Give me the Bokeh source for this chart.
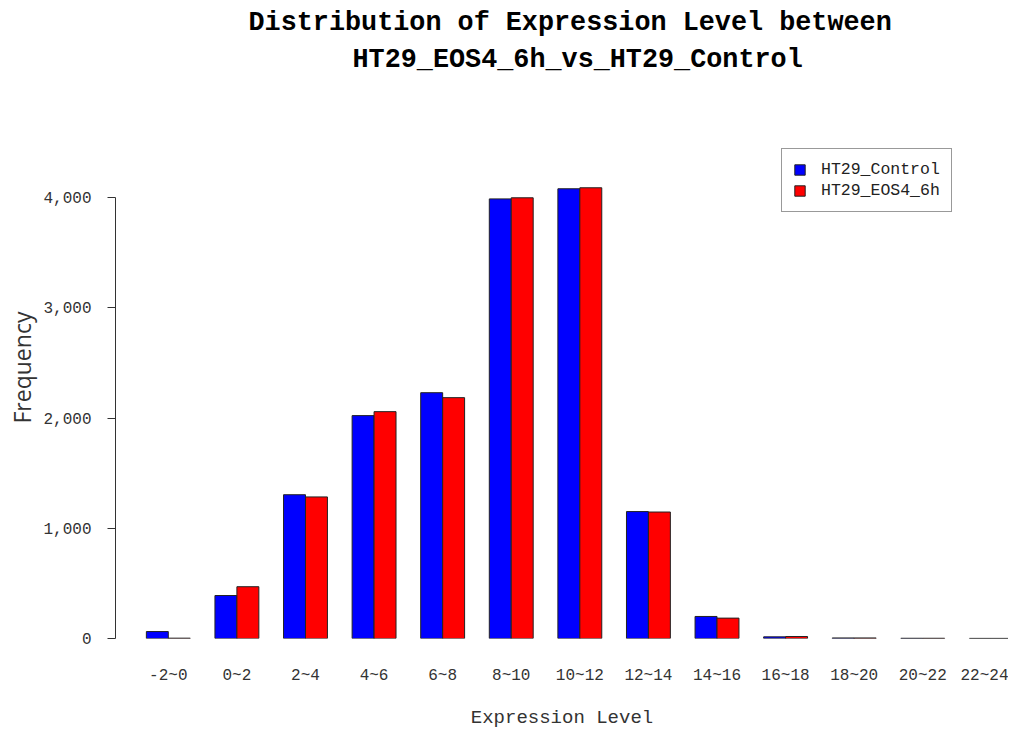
from bokeh.plotting import figure
from bokeh.models import (ColumnDataSource, Range1d, FixedTicker, NumeralTickFormatter,
                          Title, Legend, LegendItem)
from bokeh.embed import file_html
from bokeh.resources import INLINE

categories = ["-2~0", "0~2", "2~4", "4~6", "6~8", "8~10", "10~12",
              "12~14", "14~16", "16~18", "18~20", "20~22", "22~24"]
control = [63, 390, 1305, 2023, 2231, 3990, 4082, 1152, 200, 15, 5, 2, 1]
eos4_6h = [3, 470, 1285, 2059, 2186, 4000, 4091, 1148, 185, 18, 5, 2, 1]
series_names = ["HT29_Control", "HT29_EOS4_6h"]
y_ticks = [0, 1000, 2000, 3000, 4000]
title_lines = ["Distribution of Expression Level between",
               "HT29_EOS4_6h_vs_HT29_Control"]

idx = list(range(len(categories)))
src = ColumnDataSource(dict(
    x_ctrl=[i + 0.5 - 0.16 for i in idx],
    x_eos=[i + 0.5 + 0.16 for i in idx],
    control=control, eos=eos4_6h))

MONO = "Liberation Mono"

p = figure(frame_width=893, frame_height=498, output_backend="svg", toolbar_location=None,
           x_range=Range1d(-0.27, 12.75), y_range=Range1d(0, 4520),
           min_border_left=107, min_border_right=0, min_border_top=140,
           min_border_bottom=80)
p.title.visible = False

spacer = Title(text=" ", text_font_size="1px", standoff=61)
t2 = Title(text=title_lines[1], align="left",
           text_font=MONO, text_font_size="26.8px", text_font_style="bold",
           text_color="black", offset=237, standoff=4)
t1 = Title(text=title_lines[0], align="left",
           text_font=MONO, text_font_size="26.8px", text_font_style="bold",
           text_color="black", offset=133, standoff=6)
p.add_layout(spacer, "above")
p.add_layout(t2, "above")
p.add_layout(t1, "above")

r1 = p.vbar(x="x_ctrl", top="control", width=0.32, bottom=0, source=src,
            fill_color="#0000ff", line_color="#222222", line_width=1)
r2 = p.vbar(x="x_eos", top="eos", width=0.32, bottom=0, source=src,
            fill_color="#ff0000", line_color="#222222", line_width=1)

p.xgrid.visible = False
p.ygrid.visible = False
p.outline_line_color = None

# y axis
ya = p.yaxis[0]
ya.ticker = FixedTicker(ticks=y_ticks)
ya.formatter = NumeralTickFormatter(format="0,0")
ya.bounds = (0, 4000)
ya.minor_tick_line_color = None
ya.major_tick_in = 0
ya.major_tick_out = 8
ya.axis_line_color = "#333333"
ya.major_tick_line_color = "#333333"
ya.major_label_text_font = MONO
ya.major_label_text_font_size = "16px"
ya.major_label_text_color = "#333333"
ya.major_label_standoff = 16

ylab = Title(text="Frequency", align="left", text_font="Open Sans",
             text_font_size="23px", text_font_style="normal",
             text_color="#333333", offset=215, standoff=6)
p.add_layout(ylab, "left")

# x axis
xa = p.xaxis[0]
xa.ticker = FixedTicker(ticks=[i + 0.5 for i in idx])
xa.major_label_overrides = {i + 0.5: c for i, c in zip(idx, categories)}
xa.axis_line_color = None
xa.major_tick_line_color = None
xa.minor_tick_line_color = None
xa.major_label_text_font = MONO
xa.major_label_text_font_size = "16px"
xa.major_label_text_color = "#333333"
xa.major_label_standoff = 22
xa.axis_label = "Expression Level"
xa.axis_label_text_font = MONO
xa.axis_label_text_font_style = "normal"
xa.axis_label_text_font_size = "19px"
xa.axis_label_text_color = "#333333"
xa.axis_label_standoff = 19

legend = Legend(items=[LegendItem(label=series_names[0], renderers=[r1]),
                       LegendItem(label=series_names[1], renderers=[r2])],
                location=(666, 426))
legend.border_line_color = "#333333"
legend.border_line_width = 1
legend.background_fill_color = "white"
legend.label_text_font = MONO
legend.label_text_font_size = "16.5px"
legend.label_text_color = "#222222"
legend.label_standoff = 15
legend.glyph_width = 13
legend.glyph_height = 13
legend.label_height = 19
legend.spacing = 2
legend.padding = 11
legend.margin = 0
p.add_layout(legend, "center")

open("out.html", "w").write(file_html(p, INLINE))
